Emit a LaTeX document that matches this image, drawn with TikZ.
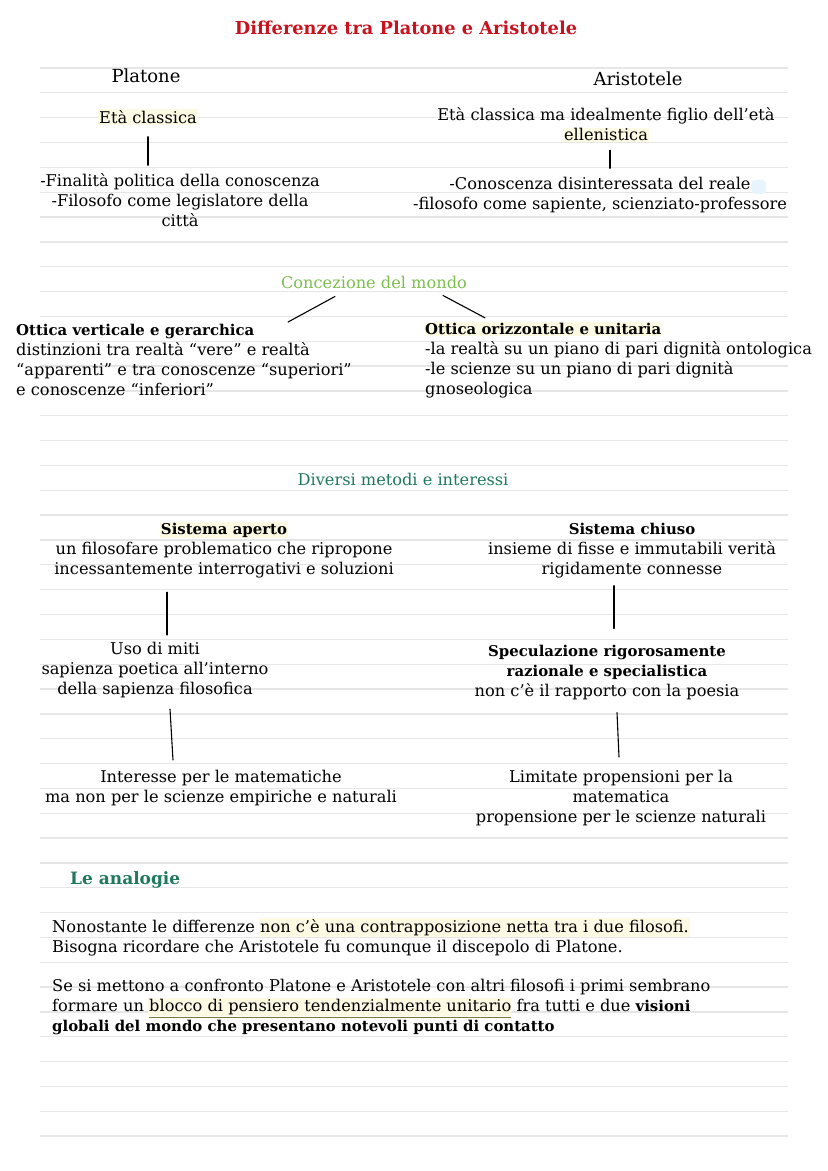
\documentclass[tikz,border=0pt]{standalone}
\usepackage{fontspec}
\setmainfont{DejaVu Serif}
\usepackage{xcolor}
\usetikzlibrary{positioning, calc}

\definecolor{titlered}{HTML}{C8121E}
\definecolor{mondogreen}{HTML}{7DBF4E}
\definecolor{metodigreen}{HTML}{1E7A5A}
\definecolor{ruleline}{HTML}{E6E6E6}
\definecolor{hiyellow}{HTML}{FCFAE2}
\definecolor{hiblue}{HTML}{E6F4FB}
\definecolor{ulolive}{HTML}{7A7A3A}

\newcommand{\hlite}[1]{{\setlength{\fboxsep}{1pt}\kern-1pt\colorbox{hiyellow}{#1}\kern-1pt}}
\newcommand{\ulite}[1]{{\color{ulolive}\underline{\hlite{\color{black}#1}}}}
\newcommand{\bft}[1]{{\fontsize{14.9}{20}\selectfont\bfseries #1}}

\begin{document}
\begin{tikzpicture}[
  x=1pt, y=-1pt,
  txt/.style={align=center, inner sep=0pt, font=\fontsize{16.2}{20}\selectfont},
  txtl/.style={align=left, anchor=west, inner sep=0pt, font=\fontsize{16.2}{20}\selectfont},
  persona/.style={inner sep=0pt, font=\fontsize{18}{20}\selectfont},
  sezione/.style={inner sep=0pt, font=\fontsize{16.2}{20}\selectfont},
  link/.style={line width=1.1pt, line cap=round}
]
  \fill[white] (0,0) rectangle (828,1171);
  \useasboundingbox (0,0) rectangle (828,1171);

  % righe del quaderno
  \foreach \i in {0,...,43}
    \draw[ruleline, line width=1.3pt] (40,{68+24.84*\i}) -- (788,{68+24.84*\i});

  \node[inner sep=0pt, font=\bfseries\fontsize{17.8}{20}\selectfont, text=titlered] (title) at (406,28) {Differenze tra Platone e Aristotele};

  % Platone / Aristotele
  \node[persona] (plat) at (146,76) {Platone};
  \node[persona] (arist) at (638,79) {Aristotele};

  \node[txt] (etaP) at (148,117) {\hlite{Età classica}};
  \node[txt] (etaA) at (606,125) {Età classica ma idealmente figlio dell’età\\\hlite{ellenistica}};
  \node[txt] (finP) at (180,200) {-Finalità politica della conoscenza\\-Filosofo come legislatore della\\città};
  \node[txt] (conA) at (600,195) {-Conoscenza disinteressata del reale\\-filosofo come sapiente, scienziato-professore};
  \fill[hiblue, rounded corners=4pt] ($(conA.north east)+(-36,3)$) rectangle +(15,14);

  \draw[link, shorten <=12pt, shorten >=8pt] (etaP.south) -- (etaP.south |- finP.north);
  \draw[link] ($(etaA.south)+(4,8)$) -- ($(etaA.south)+(4,26)$);

  % Concezione del mondo
  \node[sezione, text=mondogreen] (mondo) at (374,282) {Concezione del mondo};
  \node[txtl] (ottV) at (16,360) {\bft{Ottica verticale e gerarchica}\\distinzioni tra realtà “vere” e realtà\\“apparenti” e tra conoscenze “superiori”\\e conoscenze “inferiori”};
  \node[txtl] (ottO) at (425,360) {\hlite{\bft{Ottica orizzontale e unitaria}}\\-la realtà su un piano di pari dignità ontologica\\-le scienze su un piano di pari dignità\\gnoseologica};

  \draw[link] ($(mondo.south)+(-39,8)$) -- ($(ottV.north west)+(272,-2)$);
  \draw[link] ($(mondo.south)+(69,7)$) -- ($(ottO.north west)+(60,-4)$);

  % Diversi metodi e interessi
  \node[sezione, text=metodigreen] (metodi) at (403,479) {Diversi metodi e interessi};
  \node[txt] (aperto) at (224,550) {\hlite{\bft{Sistema aperto}}\\un filosofare problematico che ripropone\\incessantemente interrogativi e soluzioni};
  \node[txt] (chiuso) at (632,551) {\bft{Sistema chiuso}\\insieme di fisse e immutabili verità\\rigidamente connesse};
  \node[txt] (miti) at (155,670) {Uso di miti\\sapienza poetica all’interno\\della sapienza filosofica};
  \node[txt] (spec) at (607,673) {\bft{Speculazione rigorosamente}\\\bft{razionale e specialistica}\\non c’è il rapporto con la poesia};
  \node[txt] (matP) at (221,788) {Interesse per le matematiche\\ma non per le scienze empiriche e naturali};
  \node[txt] (matA) at (621,798) {Limitate propensioni per la\\matematica\\propensione per le scienze naturali};

  \draw[link] ($(aperto.south)+(-57,14)$) -- ($(miti.north)+(12,-7)$);
  \draw[link] ($(chiuso.south)+(-18,7)$) -- ($(spec.north)+(7,-17)$);
  \draw[link] ($(miti.south)+(15,11)$) -- ($(matP.north)+(-48,-10)$);
  \draw[link] ($(spec.south)+(10,12)$) -- ($(matA.north)+(-2,-13)$);

  % Le analogie
  \node[inner sep=0pt, anchor=west, font=\bfseries\fontsize{17}{20}\selectfont, text=metodigreen] (anal) at (70,880) {Le analogie};
  \node[txtl] (par1) at (52,937) {Nonostante le differenze \hlite{non c’è una contrapposizione netta tra i due filosofi.}\\Bisogna ricordare che Aristotele fu comunque il discepolo di Platone.};
  \node[txtl] (par2) at (52,1007) {Se si mettono a confronto Platone e Aristotele con altri filosofi i primi sembrano\\formare un \ulite{blocco di pensiero tendenzialmente unitario} fra tutti e due \bft{visioni}\\\bft{globali del mondo che presentano notevoli punti di contatto}};
\end{tikzpicture}
\end{document}
